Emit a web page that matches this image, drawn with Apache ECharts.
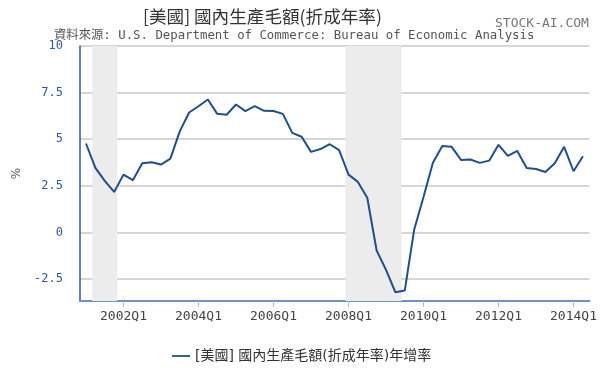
<!DOCTYPE html>
<html><head><meta charset="utf-8">
<script src="https://cdn.jsdelivr.net/npm/echarts@6/dist/echarts.min.js"></script>
<style>html,body{margin:0;padding:0;background:#fff}#c{width:600px;height:371px}</style>
</head><body><div id="c"></div>
<script>
const quarters = ['2001Q1','2001Q2','2001Q3','2001Q4','2002Q1','2002Q2','2002Q3','2002Q4',
'2003Q1','2003Q2','2003Q3','2003Q4','2004Q1','2004Q2','2004Q3','2004Q4',
'2005Q1','2005Q2','2005Q3','2005Q4','2006Q1','2006Q2','2006Q3','2006Q4',
'2007Q1','2007Q2','2007Q3','2007Q4','2008Q1','2008Q2','2008Q3','2008Q4',
'2009Q1','2009Q2','2009Q3','2009Q4','2010Q1','2010Q2','2010Q3','2010Q4',
'2011Q1','2011Q2','2011Q3','2011Q4','2012Q1','2012Q2','2012Q3','2012Q4',
'2013Q1','2013Q2','2013Q3','2013Q4','2014Q1','2014Q2'];
const gdpGrowth = [4.77,3.46,2.76,2.17,3.10,2.80,3.71,3.76,
3.64,3.96,5.42,6.43,6.77,7.13,6.36,6.31,
6.86,6.51,6.77,6.52,6.51,6.36,5.34,5.13,
4.32,4.47,4.73,4.41,3.10,2.71,1.86,-0.97,
-2.01,-3.21,-3.12,0.14,1.90,3.74,4.64,4.59,
3.89,3.91,3.73,3.85,4.70,4.10,4.37,3.46,
3.40,3.24,3.71,4.59,3.28,4.09];
const xTickLabels = ['2002Q1','2004Q1','2006Q1','2008Q1','2010Q1','2012Q1','2014Q1'];
const yTicks = [-2.5,0,2.5,5,7.5,10];
const recessions = [['2001-03','2001-11'],['2007-12','2009-06']];
const seriesName = '[美國] 國內生產毛額(折成年率)年增率';

const monthToIdx = s => { const [y,m] = s.split('-').map(Number); return ((y-2001)*12 + (m-1))/3; };
const xTickIdx = xTickLabels.map(l => quarters.indexOf(l));
const lineData = gdpGrowth.map((v,i)=>[i,v]);
const sans = 'DejaVu Sans, Noto Sans CJK TC, sans-serif';
const mono = 'DejaVu Sans Mono, Noto Sans CJK TC, monospace';

const chart = echarts.init(document.getElementById('c'));
chart.setOption({
  animation:false,
  textStyle:{fontFamily:sans},
  title:[
    {text:'[美國] 國內生產毛額(折成年率)', left:138, top:3, textStyle:{fontSize:17.6,fontWeight:'normal',color:'#333',fontFamily:'Noto Sans CJK TC, sans-serif'}},
    {text:'資料來源: U.S. Department of Commerce: Bureau of Economic Analysis', left:49, top:25, textStyle:{fontSize:12.35,fontWeight:'normal',color:'#555',fontFamily:mono}},
    {text:'STOCK-AI.COM', left:490, top:12, textStyle:{fontSize:13,fontWeight:'normal',color:'#777',fontFamily:mono}}
  ],
  legend:{left:167, top:344, icon:'path://M0,0 L20,0 L20,2 L0,2 Z', itemWidth:18, itemHeight:2, itemGap:5,
    textStyle:{fontSize:14,color:'#333',fontFamily:sans}, data:[seriesName]},
  grid:{left:80, right:10, top:46, bottom:70},
  xAxis:{type:'value', min:-0.64, max:53.7,
    axisLine:{onZero:false, lineStyle:{color:'#6a93c8',width:2}},
    axisTick:{customValues:xTickIdx, length:6, lineStyle:{color:'#a8bfdc'}},
    axisLabel:{customValues:xTickIdx, formatter:v=>quarters[v], fontSize:13, color:'#444', margin:9, fontFamily:mono},
    splitLine:{show:false}},
  yAxis:{type:'value', min:-3.68, max:10, name:'%', nameLocation:'middle', nameGap:56, nameRotate:90,
    nameTextStyle:{fontSize:12,color:'#555'},
    axisLine:{show:true, onZero:false, lineStyle:{color:'#2d5a9a',width:1.5}},
    axisTick:{show:false, customValues:yTicks},
    axisLabel:{customValues:yTicks, fontSize:12, color:'#2d5a9a', margin:17, fontFamily:mono},
    splitLine:{show:true, lineStyle:{color:'#c8c8c8',width:1.5}}},
  series:[{
    name:seriesName, type:'line', data:lineData, showSymbol:false, symbol:'none',
    lineStyle:{color:'#1f4f8f',width:2}, itemStyle:{color:'#1f4f8f'},
    markArea:{silent:true, itemStyle:{color:'#ececec'},
      data:recessions.map(r=>[{xAxis:monthToIdx(r[0])},{xAxis:monthToIdx(r[1])}])},
    z:3
  }]
});
</script></body></html>
